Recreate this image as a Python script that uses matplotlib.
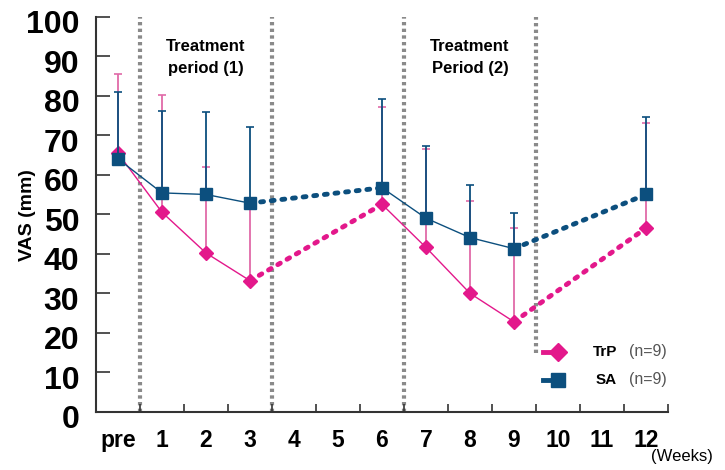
import matplotlib.pyplot as plt
import matplotlib.transforms as mtransforms
from matplotlib.lines import Line2D

plt.rcParams['font.family'] = ['Liberation Sans', 'DejaVu Sans']

categories = ['pre', '1', '2', '3', '4', '5', '6', '7', '8', '9', '10', '11', '12']
weeks_measured = ['pre', '1', '2', '3', '6', '7', '8', '9', '12']

trp_mean = [65.4, 50.5, 40.2, 33.2, 52.5, 41.6, 30.0, 22.8, 46.5]
trp_top = [85.5, 80.2, 62.0, 52.8, 77.1, 66.5, 53.3, 46.6, 73.0]
sa_mean = [64.0, 55.4, 55.0, 52.8, 56.7, 49.0, 44.1, 41.3, 55.0]
sa_top = [81.0, 76.2, 75.9, 72.0, 79.2, 67.3, 57.5, 50.2, 74.5]

period_bounds = [('pre', '1'), ('3', '4'), ('6', '7'), ('9', '10')]

pink = '#e3188b'
pink_err = '#e06aa8'
blue = '#0c4f7e'
grey = '#8a8a8a'

xi = [categories.index(w) for w in weeks_measured]

fig = plt.figure(figsize=(7.25, 4.7), dpi=100)
ax = fig.add_axes([96 / 725, 58 / 470, 572 / 725, 395.5 / 470])


def plot_series(mean, top, color, err_color, marker, ms, z):
    yerr_up = [t - m for t, m in zip(top, mean)]
    ax.errorbar(xi, mean, yerr=[[0] * len(mean), yerr_up], fmt='none',
                ecolor=err_color, elinewidth=1.3, capsize=3, capthick=1.2, zorder=z)
    # solid lines inside treatment periods
    for a, b in [(0, 4), (4, 8)]:
        ax.plot(xi[a:b], mean[a:b], color=color, lw=1.0, zorder=z + 0.1)
    # dotted lines in washout periods
    for a, b in [(3, 5), (7, 9)]:
        ax.plot(xi[a:b], mean[a:b], color=color, lw=3.5, linestyle=(0, (0.6, 1.6)),
                dash_capstyle='round', zorder=z + 0.1)
    ax.plot(xi, mean, linestyle='none', marker=marker, ms=ms, color=color,
            markeredgecolor=color, zorder=z + 0.2)


plot_series(trp_mean, trp_top, pink, pink_err, 'D', 7, 3)
plot_series(sa_mean, sa_top, blue, blue, 's', 8.5, 4)

# vertical period dividers
for i, (a, b) in enumerate(period_bounds):
    xv = (categories.index(a) + categories.index(b)) / 2
    y0 = 15 if i == len(period_bounds) - 1 else 0
    ax.plot([xv, xv], [y0, 100], color=grey, lw=3, linestyle=(0, (0.8, 0.8)),
            zorder=1, clip_on=False)

ax.text(2, 89.6, 'Treatment\nperiod (1)', ha='center', va='center',
        fontsize=12, fontweight='bold', linespacing=1.6)
ax.text(8, 89.6, 'Treatment\nPeriod (2)', ha='center', va='center',
        fontsize=12, fontweight='bold', linespacing=1.6)

ax.set_xlim(-0.5, len(categories) - 0.5)
ax.set_ylim(0, 100)
ax.set_xticks(range(len(categories)))
ax.set_xticklabels(categories, fontsize=16.5, fontweight='bold')
ax.set_xticks([i + 0.5 for i in range(len(categories) - 1)] + [len(categories) - 0.5], minor=True)
ax.tick_params(axis='x', which='major', length=0, pad=12)
ax.tick_params(axis='x', which='minor', direction='in', length=6, width=1.2, color='#333333')
ax.set_yticks(range(0, 101, 10))
ax.set_yticklabels([str(v) for v in range(0, 101, 10)], fontsize=23, fontweight='bold')
ax.tick_params(axis='y', direction='in', length=10, width=1.2, pad=12, color='#333333')
offset = mtransforms.ScaledTranslation(0, -5 / 100, fig.dpi_scale_trans)
for lab in ax.get_yticklabels():
    lab.set_transform(lab.get_transform() + offset)

for side in ['top', 'right']:
    ax.spines[side].set_visible(False)
for side in ['left', 'bottom']:
    ax.spines[side].set_linewidth(1.5)
    ax.spines[side].set_color('#333333')

fig.text(28 / 725, 1 - 215 / 470, 'VAS (mm)', rotation=90, ha='center', va='center',
         fontsize=14, fontweight='bold')
fig.text(682 / 725, 1 - 457 / 470, '(Weeks)', ha='center', va='center', fontsize=12)

# legend
legend_rows = [('TrP', pink, 'D', 7, 0.152), ('SA', blue, 's', 8.5, 0.081)]
for name, color, marker, ms, yy in legend_rows:
    ax.add_line(Line2D([0.782, 0.808], [yy, yy], transform=ax.transAxes, color=color,
                       lw=3.5, clip_on=False))
    ax.add_line(Line2D([0.808], [yy], transform=ax.transAxes, color=color, marker=marker,
                       ms=ms + 2, clip_on=False))
    ax.text(0.911, yy, name, transform=ax.transAxes, ha='right', va='center',
            fontsize=11, fontweight='bold')
    ax.text(0.932, yy, '(n=9)', transform=ax.transAxes, ha='left', va='center',
            fontsize=11.5, color='#555555', clip_on=False)

fig.savefig('out.png', dpi=100)
